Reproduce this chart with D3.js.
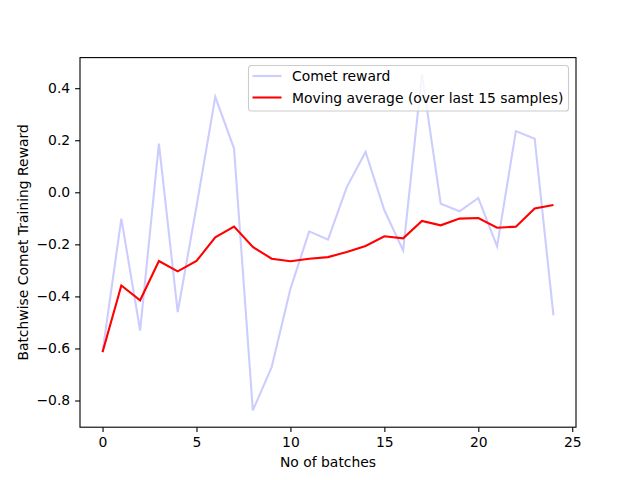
<!DOCTYPE html>
<html>
<head>
<meta charset="utf-8">
<script src="https://cdn.jsdelivr.net/npm/d3@7"></script>
<style>
  body { margin: 0; background: #fff; }
  svg { font-family: "DejaVu Sans", sans-serif; }
</style>
</head>
<body>
<svg id="chart" width="640" height="480"></svg>
<script>
// batch index and the two series
var batches = d3.range(0, 25);
var cometReward = [-0.614, -0.101, -0.531, 0.187, -0.460, -0.055, 0.367, 0.168, -0.838, -0.672,
  -0.371, -0.150, -0.182, 0.020, 0.155, -0.069, -0.223, 0.453, -0.044, -0.073,
  -0.022, -0.208, 0.235, 0.206, -0.473];
var movingAvg = [-0.614, -0.358, -0.415, -0.264, -0.304, -0.264, -0.173, -0.132, -0.210, -0.255,
  -0.265, -0.255, -0.249, -0.229, -0.206, -0.169, -0.177, -0.110, -0.127, -0.101,
  -0.099, -0.136, -0.132, -0.062, -0.049];
var xTicks = [0, 5, 10, 15, 20, 25];
var yTicks = [-0.8, -0.6, -0.4, -0.2, 0.0, 0.2, 0.4];
var seriesNames = ["Comet reward", "Moving average (over last 15 samples)"];

var margin = {top: 57.6, right: 64, bottom: 52.8, left: 80},
    width = 640 - margin.left - margin.right,
    height = 480 - margin.top - margin.bottom;

var svg = d3.select("#chart")
  .append("g")
  .attr("transform", "translate(" + margin.left + "," + margin.top + ")");

var all = cometReward.concat(movingAvg);
var yMin = d3.min(all), yMax = d3.max(all), yPad = (yMax - yMin) * 0.05;

var xScale = d3.scaleLinear()
  .domain([-1.2, 25.2])
  .range([0, width]);

var yScale = d3.scaleLinear()
  .domain([yMin - yPad, yMax + yPad])
  .range([height, 0]);

var fmt = function(d) { return d3.format(".1f")(d).replace("-", "\u2212"); };

var xAxis = d3.axisBottom(xScale).tickValues(xTicks).tickSize(4.9).tickPadding(4.9).tickFormat(d3.format("d"));
var yAxis = d3.axisLeft(yScale).tickValues(yTicks).tickSize(4.9).tickPadding(4.9).tickFormat(fmt);

var line = d3.line()
  .x(function(d, i) { return xScale(batches[i]); })
  .y(function(d) { return yScale(d); });

svg.append("path")
  .datum(cometReward)
  .attr("fill", "none")
  .attr("stroke", "#ccccff")
  .attr("stroke-width", 2.08)
  .attr("d", line);

svg.append("path")
  .datum(movingAvg)
  .attr("fill", "none")
  .attr("stroke", "#ff0000")
  .attr("stroke-width", 2.08)
  .attr("d", line);

// frame
svg.append("rect")
  .attr("width", width)
  .attr("height", height)
  .attr("fill", "none")
  .attr("stroke", "#000")
  .attr("stroke-width", 1.1);

var gx = svg.append("g")
  .attr("transform", "translate(0," + height + ")")
  .call(xAxis);
var gy = svg.append("g").call(yAxis);

[gx, gy].forEach(function(g) {
  g.select(".domain").remove();
  g.selectAll("line").attr("stroke", "#000").attr("stroke-width", 1.1);
  g.selectAll("text")
    .attr("fill", "#000")
    .style("font-size", "13.9px")
    .style("font-family", "DejaVu Sans");
});

svg.append("text")
  .attr("x", width / 2)
  .attr("y", height + 40)
  .attr("text-anchor", "middle")
  .style("font-size", "13.9px")
  .text("No of batches");

svg.append("text")
  .attr("transform", "rotate(-90)")
  .attr("x", -height / 2)
  .attr("y", -52)
  .attr("text-anchor", "middle")
  .style("font-size", "13.9px")
  .text("Batchwise Comet Training Reward");

// legend
var legend = svg.append("g")
  .attr("transform", "translate(" + (248.5 - margin.left) + "," + (65.5 - margin.top) + ")");

legend.append("rect")
  .attr("width", 320)
  .attr("height", 45.5)
  .attr("rx", 2.8)
  .attr("fill", "#fff")
  .attr("fill-opacity", 0.8)
  .attr("stroke", "#cccccc")
  .attr("stroke-width", 1.1);

var colors = ["#ccccff", "#ff0000"];
seriesNames.forEach(function(name, i) {
  var yy = 10.5 + i * 21.5;
  legend.append("line")
    .attr("x1", 4).attr("x2", 33)
    .attr("y1", yy).attr("y2", yy)
    .attr("stroke", colors[i])
    .attr("stroke-width", 2.08);
  legend.append("text")
    .attr("x", 43.5)
    .attr("y", yy)
    .attr("dy", "0.36em")
    .style("font-size", "13.9px")
    .text(name);
});
</script>
</body>
</html>
